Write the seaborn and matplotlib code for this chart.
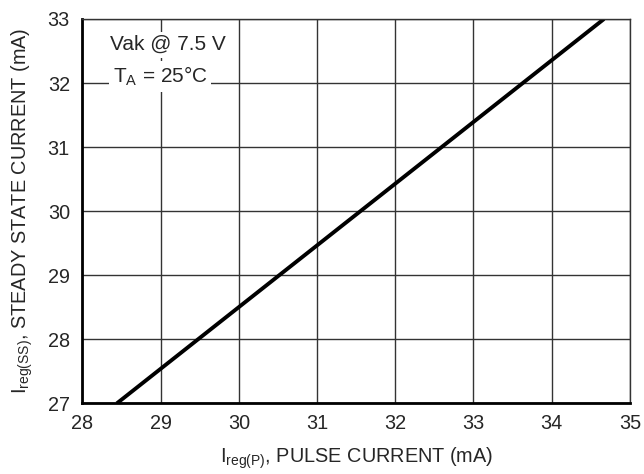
import numpy as np
import pandas as pd
import matplotlib
matplotlib.use("Agg")
import matplotlib.pyplot as plt
import seaborn as sns

# ── Data ─────────────────────────────────────────────────────────────
pulse_current = [28.44, 34.67]      # Ireg(P), mA
steady_current = [27.0, 33.0]       # Ireg(SS), mA
x_ticks = [28, 29, 30, 31, 32, 33, 34, 35]
y_ticks = [27, 28, 29, 30, 31, 32, 33]

df = pd.DataFrame({"pulse": pulse_current, "steady": steady_current})

# ── Style ────────────────────────────────────────────────────────────
sns.set_style("white")
plt.rcParams["font.family"] = ["Liberation Sans", "DejaVu Sans"]
plt.rcParams["mathtext.fontset"] = "custom"
plt.rcParams["mathtext.rm"] = "Liberation Sans"

fig, ax = plt.subplots(figsize=(6.44, 4.74), dpi=100)
fig.subplots_adjust(left=0.128, right=0.978, top=0.96, bottom=0.149)

sns.lineplot(data=df, x="pulse", y="steady", ax=ax, color="black",
             linewidth=2.8, solid_capstyle="butt")

ax.set_xlim(28, 35)
ax.set_ylim(27, 33)
ax.set_xticks(x_ticks)
ax.set_yticks(y_ticks)
ax.tick_params(axis="both", labelsize=14.3, length=0)
ax.tick_params(axis="x", pad=8)
ax.tick_params(axis="y", pad=9)
ax.grid(True, color="#333333", linewidth=1.0)
ax.set_axisbelow(True)

for side in ["top", "right"]:
    ax.spines[side].set_color("#333333")
    ax.spines[side].set_linewidth(1.0)
for side in ["left", "bottom"]:
    ax.spines[side].set_color("black")
    ax.spines[side].set_linewidth(2.0)

ax.set_xlabel(r"I$_{\mathregular{reg(P)}}$, PULSE CURRENT (mA)",
              fontsize=14.3, labelpad=9)
ax.set_ylabel(r"I$_{\mathregular{reg(SS)}}$, STEADY STATE CURRENT (mA)",
              fontsize=14.3, labelpad=9)

# annotation box (white backgrounds hide the grid)
box = dict(facecolor="white", edgecolor="none", pad=2.5)
ax.text(28.35, 32.6, "Vak @ 7.5 V", fontsize=15, va="center",
        ha="left", bbox=box)
ax.text(28.39, 32.1, r"T$_{\mathregular{A}}$ = 25°C", fontsize=15,
        va="center", ha="left", bbox=box)

plt.savefig("out.png", dpi=100)
